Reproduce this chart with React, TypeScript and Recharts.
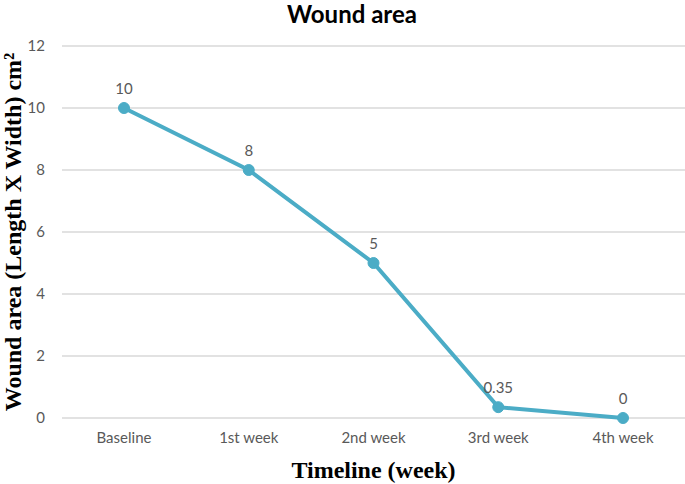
import { LineChart, Line, XAxis, YAxis, CartesianGrid, LabelList, Label } from 'recharts'

const weeks = ['Baseline', '1st week', '2nd week', '3rd week', '4th week']
const woundArea = [10, 8, 5, 0.35, 0]
const yTicks = [0, 2, 4, 6, 8, 10, 12]

const data = weeks.map((week, i) => ({ week, area: woundArea[i] }))

const tickStyle = { fill: '#595959', fontSize: 15, fontFamily: 'Lato, sans-serif' }
const axisTitle = { fill: '#000', fontSize: 24, fontWeight: 'bold', fontFamily: '"Liberation Serif", serif' }

export default function App() {
  return (
    <div style={{ position: 'absolute', left: 0, top: 0, width: 685, height: 484, background: '#fff' }}>
      <div
        style={{
          position: 'absolute',
          top: 0,
          left: 202,
          width: 300,
          textAlign: 'center',
          fontFamily: 'Lato, sans-serif',
          fontWeight: 'bold',
          fontSize: 24,
          color: '#000',
          lineHeight: '28px',
        }}
      >
        Wound area
      </div>
      <LineChart width={685} height={484} data={data} margin={{ top: 46, right: 0, bottom: 0, left: 0 }}>
        <CartesianGrid vertical={false} stroke="#d9d9d9" strokeWidth={1.5} />
        <XAxis
          dataKey="week"
          height={66}
          axisLine={false}
          tickLine={false}
          tickSize={0}
          tickMargin={14}
          padding={{ left: 62, right: 62 }}
          tick={tickStyle}
          interval={0}
        >
          <Label value="Timeline (week)" position="insideBottom" offset={6} style={axisTitle} />
        </XAxis>
        <YAxis
          width={62}
          domain={[0, 12]}
          ticks={yTicks}
          axisLine={false}
          tickLine={false}
          tickSize={0}
          tickMargin={17}
          tick={tickStyle}
        >
          <Label
            value="Wound area (Length X Width) cm²"
            angle={-90}
            position="insideLeft"
            offset={12}
            style={{ ...axisTitle, textAnchor: 'middle' }}
          />
        </YAxis>
        <Line
          type="linear"
          dataKey="area"
          stroke="#4bacc6"
          strokeWidth={4}
          dot={{ r: 5.5, fill: '#4bacc6', stroke: '#4bacc6', strokeWidth: 1 }}
          isAnimationActive={false}
        >
          <LabelList dataKey="area" position="top" offset={14} style={{ fill: '#595959', fontSize: 15, fontFamily: 'Lato, sans-serif' }} />
        </Line>
      </LineChart>
    </div>
  )
}
